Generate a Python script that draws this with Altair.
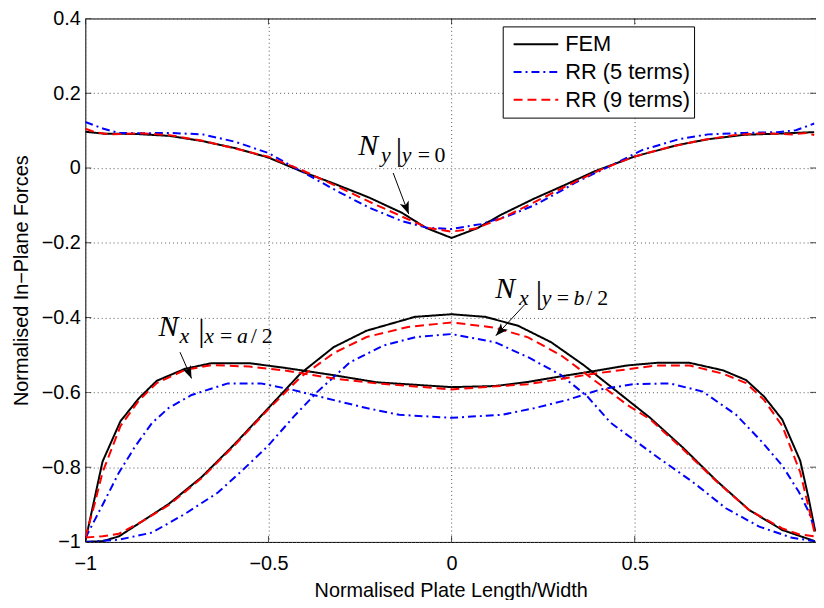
import math
import altair as alt
import pandas as pd

# ---------------- data ----------------
series_names = ["FEM", "RR (5 terms)", "RR (9 terms)"]

# N_y | y=0  (upper curves)
ny_fem_x = [-1.0, -0.95, -0.86, -0.77, -0.68, -0.59, -0.50, -0.41, -0.32, -0.225, -0.135, -0.07, 0.0,
            0.07, 0.135, 0.225, 0.31, 0.39, 0.50, 0.62, 0.70, 0.80, 0.89, 0.99]
ny_fem_y = [0.097, 0.092, 0.091, 0.086, 0.072, 0.053, 0.028, -0.009, -0.042, -0.079, -0.120, -0.160, -0.187,
            -0.161, -0.125, -0.082, -0.045, -0.009, 0.031, 0.062, 0.077, 0.089, 0.092, 0.096]
ny_rr5_x = [-1.0, -0.95, -0.91, -0.85, -0.77, -0.68, -0.59, -0.50, -0.41, -0.31, -0.225, -0.135, -0.065, 0.0,
            0.08, 0.155, 0.225, 0.29, 0.34, 0.43, 0.52, 0.62, 0.70, 0.80, 0.89, 0.94, 0.99]
ny_rr5_y = [0.123, 0.105, 0.094, 0.093, 0.094, 0.090, 0.070, 0.040, -0.009, -0.063, -0.106, -0.142, -0.160, -0.163,
            -0.150, -0.128, -0.100, -0.066, -0.038, 0.004, 0.048, 0.077, 0.090, 0.094, 0.096, 0.101, 0.119]
ny_rr9_x = [-1.0, -0.97, -0.93, -0.85, -0.77, -0.68, -0.59, -0.50, -0.41, -0.31, -0.225, -0.135, -0.065, 0.0,
            0.065, 0.135, 0.225, 0.31, 0.41, 0.50, 0.59, 0.68, 0.77, 0.85, 0.93, 0.97, 0.99]
ny_rr9_y = [0.105, 0.095, 0.090, 0.093, 0.088, 0.073, 0.052, 0.030, -0.005, -0.050, -0.090, -0.130, -0.160, -0.170,
            -0.162, -0.135, -0.092, -0.050, -0.003, 0.031, 0.055, 0.074, 0.088, 0.093, 0.090, 0.094, 0.088]

# N_x | x=a/2  (steep-edged curves)
nxa_fem_x = [-1.0, -0.953, -0.904, -0.854, -0.805, -0.728, -0.656, -0.552, -0.458, -0.322, -0.205, 0.0,
             0.119, 0.209, 0.299, 0.389, 0.479, 0.56, 0.65, 0.741, 0.804, 0.853, 0.903, 0.952, 0.975, 0.993]
nxa_fem_y = [-0.998, -0.785, -0.677, -0.616, -0.569, -0.537, -0.522, -0.522, -0.534, -0.554, -0.573, -0.586,
             -0.583, -0.572, -0.557, -0.543, -0.528, -0.521, -0.521, -0.541, -0.567, -0.611, -0.673, -0.783, -0.884, -0.972]
nxa_rr5_x = [-1.0, -0.953, -0.908, -0.863, -0.818, -0.773, -0.71, -0.611, -0.521, -0.431, -0.341, -0.232, -0.143, 0.0,
             0.137, 0.227, 0.317, 0.407, 0.497, 0.596, 0.686, 0.777, 0.849, 0.903, 0.948, 0.975, 0.993]
nxa_rr5_y = [-0.99, -0.901, -0.814, -0.743, -0.682, -0.642, -0.607, -0.576, -0.576, -0.594, -0.616, -0.642, -0.660, -0.668,
             -0.660, -0.642, -0.620, -0.592, -0.578, -0.576, -0.598, -0.660, -0.734, -0.796, -0.866, -0.919, -0.97]
nxa_rr9_x = [-1.0, -0.975, -0.953, -0.904, -0.854, -0.805, -0.728, -0.656, -0.552, -0.458, -0.322, -0.205, 0.0,
             0.209, 0.389, 0.56, 0.65, 0.741, 0.804, 0.853, 0.903, 0.952, 0.984, 0.993]
nxa_rr9_y = [-0.988, -0.90, -0.814, -0.690, -0.622, -0.575, -0.540, -0.527, -0.531, -0.541, -0.563, -0.576, -0.592,
             -0.578, -0.550, -0.528, -0.528, -0.550, -0.575, -0.620, -0.690, -0.814, -0.945, -0.985]

# N_x | y=b/2  (bell-shaped curves)
nxb_fem_x = [-1.0, -0.953, -0.908, -0.845, -0.773, -0.683, -0.593, -0.503, -0.413, -0.322, -0.232, -0.10, 0.0,
             0.092, 0.182, 0.272, 0.362, 0.452, 0.542, 0.632, 0.723, 0.813, 0.903, 0.992]
nxb_fem_y = [-1.0, -0.998, -0.985, -0.945, -0.899, -0.827, -0.739, -0.645, -0.550, -0.479, -0.435, -0.398, -0.391,
             -0.398, -0.422, -0.466, -0.528, -0.598, -0.668, -0.748, -0.836, -0.915, -0.968, -0.998]
nxb_rr5_x = [-1.0, -0.908, -0.818, -0.728, -0.638, -0.575, -0.503, -0.431, -0.368, -0.278, -0.187, -0.097, 0.0,
             0.119, 0.209, 0.299, 0.371, 0.434, 0.502, 0.569, 0.659, 0.749, 0.84, 0.93, 0.992]
nxb_rr5_y = [-1.0, -0.994, -0.975, -0.925, -0.868, -0.812, -0.745, -0.665, -0.600, -0.520, -0.475, -0.452, -0.444,
             -0.466, -0.506, -0.554, -0.611, -0.681, -0.730, -0.778, -0.840, -0.910, -0.959, -0.989, -0.998]
nxb_rr9_x = [-1.0, -0.953, -0.908, -0.845, -0.773, -0.683, -0.593, -0.503, -0.413, -0.322, -0.232, -0.119, 0.0,
             0.119, 0.209, 0.299, 0.389, 0.479, 0.542, 0.632, 0.723, 0.813, 0.903, 0.95, 0.992]
nxb_rr9_y = [-0.988, -0.985, -0.978, -0.945, -0.902, -0.830, -0.742, -0.648, -0.560, -0.495, -0.452, -0.425, -0.413,
             -0.427, -0.453, -0.501, -0.567, -0.633, -0.672, -0.752, -0.838, -0.915, -0.964, -0.980, -0.985]

x_tick_values = [-1, -0.5, 0, 0.5]
y_tick_values = [-1, -0.8, -0.6, -0.4, -0.2, 0, 0.2, 0.4]

# annotations (anchor of the big "N", in data units) and their arrows
ann_x = [-0.255, -0.800, 0.119]
ann_y = [0.035, -0.4485, -0.3475]
ann_parts = [
    ["N", "y", "|", "y", "=", "0"],
    ["N", "x", "|", "x", "=", "a", "/", "2"],
    ["N", "x", "|", "y", "=", "b", "/", "2"],
]
arrow_x0 = [-0.1595, -0.7414, 0.200]
arrow_y0 = [-0.0132, -0.4926, -0.3649]
arrow_x1 = [-0.117, -0.710, 0.1208]
arrow_y1 = [-0.1232, -0.5628, -0.4485]

# ---------------- styling ----------------
series_colors = ["#000000", "#0000ff", "#ff0000"]
series_dash = [[1, 0], [8, 4, 2, 4], [9, 5]]
ann_dx = [[0, 23, 38, 44, 60, 77],
          [0, 21, 40, 46, 62, 79, 93, 104],
          [0, 24, 41, 47, 62, 79, 92, 103]]
X_MIN, X_MAX = -1.0, 0.995
Y_MIN, Y_MAX = -1.0, 0.4
W, H = 737, 528
SANS = "Liberation Sans"
SERIF = "Liberation Serif"

# ---------------- build tables ----------------
curves = [
    ("ny", [(ny_fem_x, ny_fem_y), (ny_rr5_x, ny_rr5_y), (ny_rr9_x, ny_rr9_y)]),
    ("nxa", [(nxa_fem_x, nxa_fem_y), (nxa_rr5_x, nxa_rr5_y), (nxa_rr9_x, nxa_rr9_y)]),
    ("nxb", [(nxb_fem_x, nxb_fem_y), (nxb_rr5_x, nxb_rr5_y), (nxb_rr9_x, nxb_rr9_y)]),
]
rows = []
for s_i, s_name in enumerate(series_names):
    for fam, pairs in curves:
        xs, ys = pairs[s_i]
        for k, (xv, yv) in enumerate(zip(xs, ys)):
            rows.append({"series": s_name, "curve": f"{fam}-{s_i}", "x": xv, "y": yv, "idx": k})
df = pd.DataFrame(rows)

xscale = alt.Scale(domain=[X_MIN, X_MAX], nice=False, zero=False)
yscale = alt.Scale(domain=[Y_MIN, Y_MAX], nice=False, zero=False)

legend = alt.Legend(
    title=None, orient="none", legendX=421, legendY=8,
    strokeColor="black", fillColor="white", padding=4, clipHeight=28,
    symbolType="stroke", symbolSize=2025, symbolStrokeWidth=2,
    symbolOffset=6, labelOffset=6, rowPadding=0,
    labelFont=SANS, labelFontSize=22, labelColor="black",
)

lines = alt.Chart(df).mark_line(strokeWidth=2, clip=True).encode(
    x=alt.X("x:Q", scale=xscale,
            axis=alt.Axis(values=x_tick_values, format="~g", title="Normalised Plate Length/Width",
                          labelPadding=12, titlePadding=7)),
    y=alt.Y("y:Q", scale=yscale,
            axis=alt.Axis(values=y_tick_values, format="~g", title="Normalised In\u2212Plane Forces",
                          labelPadding=5, titlePadding=10)),
    color=alt.Color("series:N", scale=alt.Scale(domain=series_names, range=series_colors), legend=legend),
    strokeDash=alt.StrokeDash("series:N", scale=alt.Scale(domain=series_names, range=series_dash), legend=legend),
    detail="curve:N",
    order="idx:Q",
)

# inward tick marks on all four sides
xt = pd.DataFrame({"x": x_tick_values})
yt = pd.DataFrame({"y": y_tick_values})
tick_bottom = alt.Chart(xt).mark_tick(orient="vertical", size=12, thickness=1, color="black", clip=True).encode(
    x=alt.X("x:Q", scale=xscale), y=alt.datum(Y_MIN))
tick_top = alt.Chart(xt).mark_tick(orient="vertical", size=12, thickness=1, color="black", clip=True).encode(
    x=alt.X("x:Q", scale=xscale), y=alt.datum(Y_MAX))
tick_left = alt.Chart(yt).mark_tick(orient="horizontal", size=12, thickness=1, color="black", clip=True).encode(
    y=alt.Y("y:Q", scale=yscale), x=alt.datum(X_MIN))
tick_right = alt.Chart(yt).mark_tick(orient="horizontal", size=12, thickness=1, color="black", clip=True).encode(
    y=alt.Y("y:Q", scale=yscale), x=alt.datum(X_MAX))

# arrows
sx = W / (X_MAX - X_MIN)
sy = H / (Y_MAX - Y_MIN)
angles = []
for x0, y0, x1, y1 in zip(arrow_x0, arrow_y0, arrow_x1, arrow_y1):
    dxp = (x1 - x0) * sx
    dyp = -(y1 - y0) * sy
    angles.append(math.degrees(math.atan2(dxp, -dyp)) % 360)
adf = pd.DataFrame({"x": arrow_x0, "y": arrow_y0, "x2": arrow_x1, "y2": arrow_y1})
hdf = pd.DataFrame({"x": arrow_x1, "y": arrow_y1, "ang": angles})
arrow_lines = alt.Chart(adf).mark_rule(color="black", strokeWidth=1).encode(
    x=alt.X("x:Q", scale=xscale), y=alt.Y("y:Q", scale=yscale), x2="x2:Q", y2="y2:Q")
arrow_heads = alt.Chart(hdf).mark_point(
    shape="M0,0L0.6,1.6L0,1.2L-0.6,1.6Z", filled=True, size=256, color="black", opacity=1, strokeWidth=0
).encode(x=alt.X("x:Q", scale=xscale), y=alt.Y("y:Q", scale=yscale), angle=alt.Angle("ang:Q", scale=None))

# math-style labels
text_layers = []
for a_i, parts in enumerate(ann_parts):
    for p_i, part in enumerate(parts):
        if p_i == 0:
            size, dy, style = 30, 0, "italic"
        elif part == "|":
            size, dy, style = 32, 5, "normal"
        else:
            size, dy = 22, 7
            style = "italic" if part.isalpha() else "normal"
        tdf = pd.DataFrame({"x": [ann_x[a_i]], "y": [ann_y[a_i]], "t": [part]})
        text_layers.append(
            alt.Chart(tdf).mark_text(font=SERIF, fontSize=size, fontStyle=style, align="left",
                                     baseline="alphabetic", dx=ann_dx[a_i][p_i], dy=dy, color="black").encode(
                x=alt.X("x:Q", scale=xscale), y=alt.Y("y:Q", scale=yscale), text="t:N")
        )

chart = alt.layer(lines, tick_bottom, tick_top, tick_left, tick_right, arrow_lines, arrow_heads, *text_layers).properties(
    width=W, height=H,
    padding={"left": 78, "top": 8, "right": 0, "bottom": 56},
    autosize=alt.AutoSizeParams(type="none"),
    background="white",
).configure_view(stroke="black", strokeWidth=1).configure_axis(
    labelFont=SANS, labelFontSize=20, labelColor="black",
    titleFont=SANS, titleFontSize=20, titleFontWeight="normal", titleColor="black",
    grid=True, gridColor="#555555", gridDash=[1, 3], gridWidth=1,
    ticks=False, domain=False, labelFlush=False,
)

chart.save("out.html", embed_options={"renderer": "svg", "actions": False})
